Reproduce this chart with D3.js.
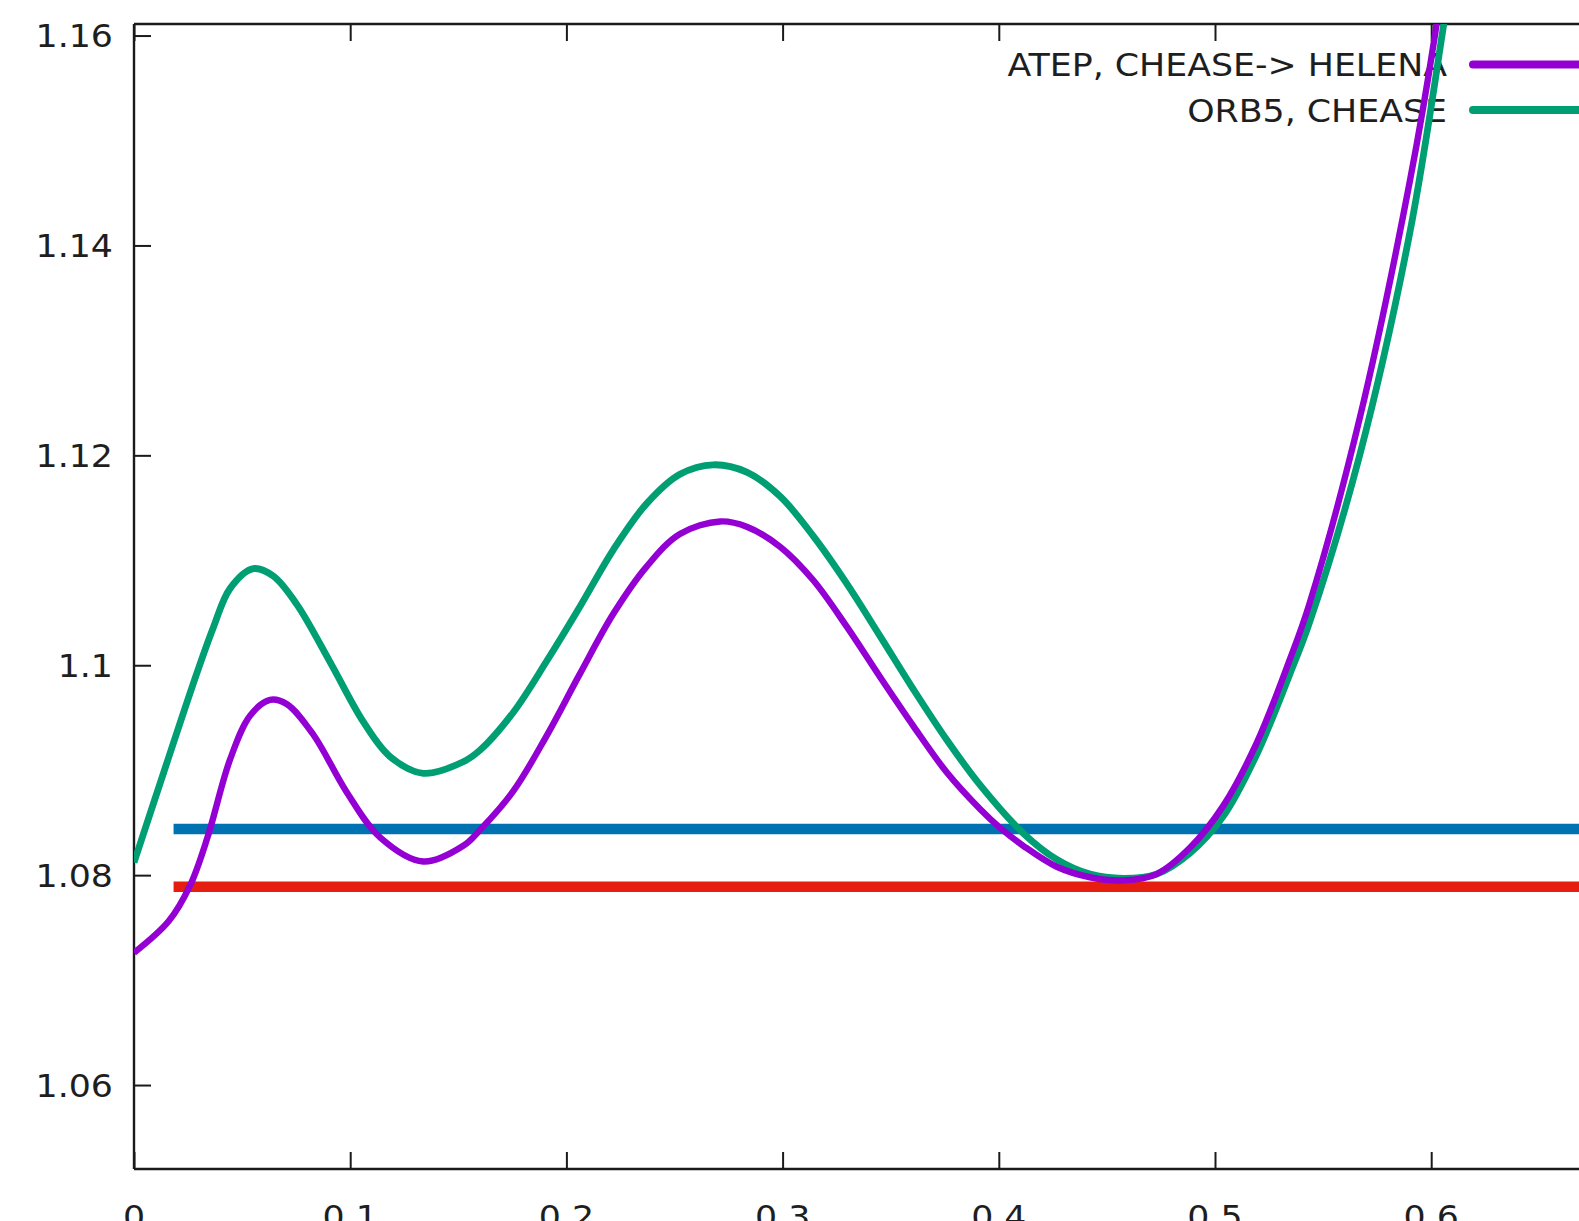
<!DOCTYPE html>
<html>
<head>
<meta charset="utf-8">
<script src="https://cdn.jsdelivr.net/npm/d3@7"></script>
<style>
  html, body { margin: 0; padding: 0; background: #ffffff; overflow: hidden; }
  svg { display: block; }
  text { font-family: "DejaVu Sans", sans-serif; fill: #1e1e1e; }
</style>
</head>
<body>
<script>
// ATEP, CHEASE -> HELENA profile
const atepX = [0, 0.0160, 0.0259, 0.0340, 0.0444, 0.0537, 0.0629, 0.0706, 0.0829, 0.0984,
  0.1138, 0.1338, 0.1523, 0.1600, 0.1754, 0.1909, 0.2063, 0.2217, 0.2371, 0.2525,
  0.2711, 0.2834, 0.2988, 0.3142, 0.3296, 0.3450, 0.3605, 0.3759, 0.3913, 0.4006,
  0.4113, 0.4268, 0.4422, 0.4576, 0.4730, 0.4884, 0.5038, 0.5193, 0.5347, 0.5436,
  0.5669, 0.5901, 0.6017, 0.6050];
const atepY = [1.0726, 1.0756, 1.0790, 1.0836, 1.0910, 1.0952, 1.0967, 1.0963, 1.0934, 1.0879,
  1.0836, 1.0813, 1.0828, 1.0843, 1.0880, 1.0933, 1.0992, 1.1049, 1.1094, 1.1125,
  1.1137, 1.1132, 1.1113, 1.1081, 1.1037, 1.0989, 1.0942, 1.0898, 1.0863, 1.0845,
  1.0828, 1.0808, 1.0798, 1.0795, 1.0801, 1.0826, 1.0866, 1.0926, 1.1006, 1.1058,
  1.1235, 1.1461, 1.1600, 1.1650];

// ORB5, CHEASE profile
const orbX = [0, 0.0136, 0.0290, 0.0367, 0.0444, 0.0552, 0.0644, 0.0753, 0.0907, 0.1061,
  0.1184, 0.1338, 0.1523, 0.1600, 0.1754, 0.1909, 0.2063, 0.2217, 0.2371, 0.2525,
  0.2679, 0.2834, 0.2988, 0.3142, 0.3296, 0.3450, 0.3605, 0.3759, 0.3913, 0.4113,
  0.4268, 0.4422, 0.4576, 0.4730, 0.4884, 0.5038, 0.5193, 0.5347, 0.5436, 0.5669,
  0.5901, 0.6050, 0.6085];
const orbY = [1.0812, 1.0897, 1.0992, 1.1036, 1.1073, 1.1092, 1.1085, 1.1058, 1.1003, 1.0946,
  1.0913, 1.0897, 1.0908, 1.0919, 1.0955, 1.1004, 1.1056, 1.1110, 1.1154, 1.1182,
  1.1191, 1.1184, 1.1161, 1.1123, 1.1078, 1.1028, 1.0977, 1.0929, 1.0886, 1.0840,
  1.0815, 1.0801, 1.0797, 1.0801, 1.0821, 1.0856, 1.0915, 1.0992, 1.1040, 1.1200,
  1.1412, 1.1600, 1.1650];

// Reference levels (horizontal lines)
const levelStart = 0.0183;
const levelEnd = 0.75;
const levelBlue = 1.0844;
const levelRed = 1.0789;

// Tick values
const xTicks = [0, 0.1, 0.2, 0.3, 0.4, 0.5, 0.6, 0.7];
const yTicks = [1.06, 1.08, 1.1, 1.12, 1.14, 1.16];

// Legend entries
const legendLabels = ["ATEP, CHEASE-> HELENA", "ORB5, CHEASE"];

const W = 1579, H = 1221;
const plot = { left: 134, top: 24, bottom: 1169, right: 134 + 7 * 216.2 };
const textStretch = 1.087;

const svg = d3.select("body").append("svg").attr("width", W).attr("height", H);
svg.append("rect").attr("width", W).attr("height", H).attr("fill", "#ffffff");

const x = d3.scaleLinear().domain([0, 0.7]).range([plot.left, plot.right]);
const y = d3.scaleLinear().domain([1.052, 1.1611]).range([plot.bottom, plot.top]);

svg.append("defs").append("clipPath").attr("id", "plotclip")
  .append("rect")
  .attr("x", plot.left).attr("y", plot.top)
  .attr("width", plot.right - plot.left).attr("height", plot.bottom - plot.top);

const colors = { atep: "#9400d3", orb: "#009e73", blue: "#0072b2", red: "#e51e10" };

// Axes with inward ticks on left, bottom and top
const tickLen = 17;
const fmt = d => (d === 0 ? "0" : String(+d.toFixed(2)));

const axisLeft = d3.axisRight(y).tickValues(yTicks).tickSize(tickLen).tickFormat("");
const gLeft = svg.append("g").attr("transform", `translate(${plot.left},0)`).call(axisLeft);
const axisBottom = d3.axisTop(x).tickValues(xTicks).tickSize(tickLen).tickFormat("");
const gBottom = svg.append("g").attr("transform", `translate(0,${plot.bottom})`).call(axisBottom);
const axisTop = d3.axisBottom(x).tickValues(xTicks).tickSize(tickLen).tickFormat("");
const gTop = svg.append("g").attr("transform", `translate(0,${plot.top})`).call(axisTop);
[gLeft, gBottom, gTop].forEach(g => {
  g.select(".domain").remove();
  g.selectAll(".tick line").attr("stroke", "#1a1a1a").attr("stroke-width", 2);
});

// Frame lines
const frame = [
  [plot.left, plot.top, plot.left, plot.bottom],
  [plot.left, plot.bottom, plot.right, plot.bottom],
  [plot.left, plot.top, plot.right, plot.top]
];
svg.append("g").selectAll("line").data(frame).join("line")
  .attr("x1", d => d[0]).attr("y1", d => d[1])
  .attr("x2", d => d[2]).attr("y2", d => d[3])
  .attr("stroke", "#1a1a1a").attr("stroke-width", 2.4);

// Text helper: slightly widened glyphs
function label(parent, px, py, anchor, str) {
  return parent.append("text")
    .attr("transform", `translate(${px},${py}) scale(${textStretch},1)`)
    .attr("text-anchor", anchor).attr("font-size", 32)
    .text(str);
}

// Tick labels
const gYLabels = svg.append("g");
yTicks.forEach(d => label(gYLabels, 113, y(d) + 11.5, "end", fmt(d)));
const gXLabels = svg.append("g");
xTicks.forEach(d => label(gXLabels, x(d), plot.bottom + 59, "middle", fmt(d)));

// Legend
const legend = svg.append("g");
const legendRows = [
  { label: legendLabels[0], color: colors.atep, cy: 64.5 },
  { label: legendLabels[1], color: colors.orb, cy: 110 }
];
legendRows.forEach(r => {
  label(legend, 1447, r.cy + 11.5, "end", r.label);
  legend.append("line")
    .attr("x1", 1473).attr("x2", 1620)
    .attr("y1", r.cy).attr("y2", r.cy)
    .attr("stroke", r.color).attr("stroke-width", 8).attr("stroke-linecap", "round");
});

// Curves and reference levels
const plotArea = svg.append("g").attr("clip-path", "url(#plotclip)");
const line = d3.line().x(d => x(d[0])).y(d => y(d[1])).curve(d3.curveCatmullRom.alpha(0.5));

plotArea.append("line")
  .attr("x1", x(levelStart)).attr("x2", x(levelEnd))
  .attr("y1", y(levelBlue)).attr("y2", y(levelBlue))
  .attr("stroke", colors.blue).attr("stroke-width", 10.5);
plotArea.append("line")
  .attr("x1", x(levelStart)).attr("x2", x(levelEnd))
  .attr("y1", y(levelRed)).attr("y2", y(levelRed))
  .attr("stroke", colors.red).attr("stroke-width", 10.5);

plotArea.append("path").datum(d3.zip(orbX, orbY))
  .attr("d", line).attr("fill", "none")
  .attr("stroke", colors.orb).attr("stroke-width", 6.8).attr("stroke-linejoin", "round");
plotArea.append("path").datum(d3.zip(atepX, atepY))
  .attr("d", line).attr("fill", "none")
  .attr("stroke", colors.atep).attr("stroke-width", 6.4).attr("stroke-linejoin", "round");
</script>
</body>
</html>
